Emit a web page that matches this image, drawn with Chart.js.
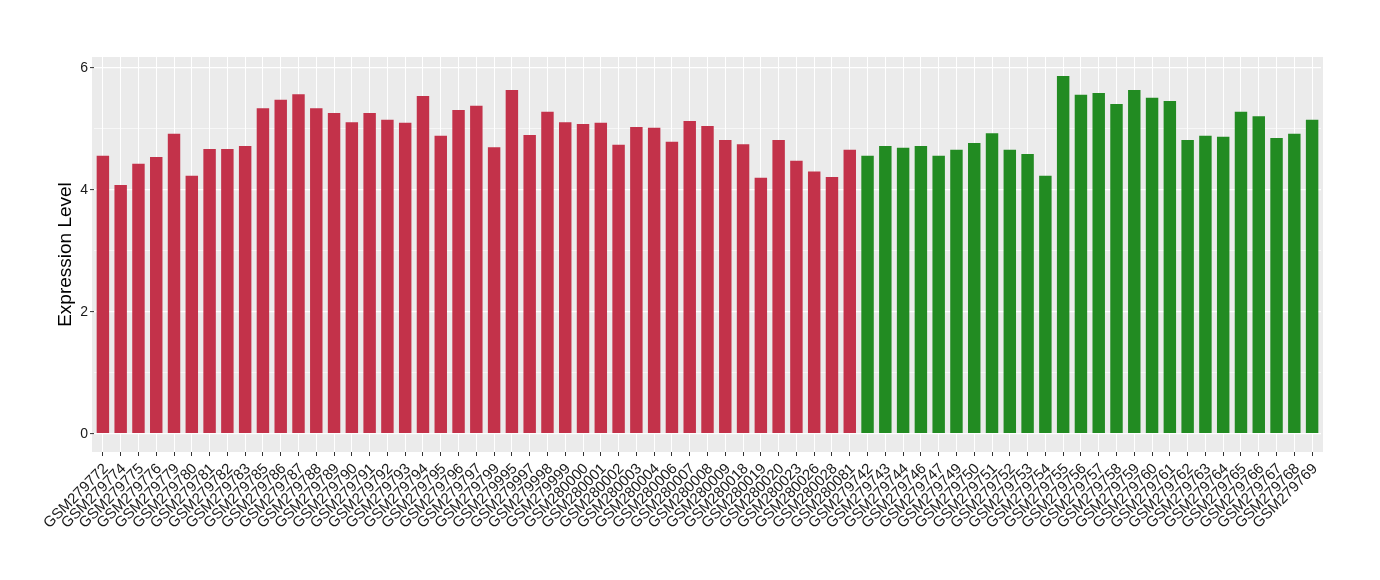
<!DOCTYPE html>
<html>
<head>
<meta charset="utf-8">
<script src="https://cdn.jsdelivr.net/npm/chart.js@4.4.1/dist/chart.umd.min.js"></script>
<style>
  html, body { margin: 0; padding: 0; background: #fff; }
  #wrap { width: 1380px; height: 580px; }
</style>
</head>
<body>
<div id="wrap"><canvas id="chart"></canvas></div>
<script>
// campioni e valori del primo gruppo (rosso)
const redSamples = ['GSM279772', 'GSM279774', 'GSM279775', 'GSM279776', 'GSM279779', 'GSM279780', 'GSM279781', 'GSM279782', 'GSM279783', 'GSM279785',
    'GSM279786', 'GSM279787', 'GSM279788', 'GSM279789', 'GSM279790', 'GSM279791', 'GSM279792', 'GSM279793', 'GSM279794', 'GSM279795',
    'GSM279796', 'GSM279797', 'GSM279799', 'GSM279995', 'GSM279997', 'GSM279998', 'GSM279999', 'GSM280000', 'GSM280001', 'GSM280002',
    'GSM280003', 'GSM280004', 'GSM280006', 'GSM280007', 'GSM280008', 'GSM280009', 'GSM280018', 'GSM280019', 'GSM280020', 'GSM280023',
    'GSM280026', 'GSM280028', 'GSM280081'];
const redValues = [4.56, 4.08, 4.43, 4.54, 4.92, 4.23, 4.67, 4.67, 4.72, 5.34,
    5.48, 5.57, 5.34, 5.26, 5.11, 5.26, 5.15, 5.10, 5.54, 4.89,
    5.31, 5.38, 4.70, 5.64, 4.90, 5.28, 5.11, 5.08, 5.10, 4.74,
    5.03, 5.02, 4.79, 5.13, 5.05, 4.82, 4.75, 4.20, 4.82, 4.48,
    4.30, 4.21, 4.66];

// secondo gruppo (verde)
const greenSamples = ['GSM279742', 'GSM279743', 'GSM279744', 'GSM279746', 'GSM279747', 'GSM279749', 'GSM279750', 'GSM279751', 'GSM279752', 'GSM279753',
    'GSM279754', 'GSM279755', 'GSM279756', 'GSM279757', 'GSM279758', 'GSM279759', 'GSM279760', 'GSM279761', 'GSM279762', 'GSM279763',
    'GSM279764', 'GSM279765', 'GSM279766', 'GSM279767', 'GSM279768', 'GSM279769'];
const greenValues = [4.56, 4.72, 4.69, 4.72, 4.56, 4.66, 4.77, 4.93, 4.66, 4.59,
    4.23, 5.87, 5.56, 5.59, 5.41, 5.64, 5.51, 5.46, 4.82, 4.89,
    4.87, 5.28, 5.21, 4.85, 4.92, 5.15];

const yTicks = [0, 1, 2, 3, 4, 5, 6];
const yLabelled = [0, 2, 4, 6];

const RED = '#C3324A';
const GREEN = '#228B22';

const labels = redSamples.concat(greenSamples);
const values = redValues.concat(greenValues);
const colors = redSamples.map(() => RED).concat(greenSamples.map(() => GREEN));

// sfondo grigio del pannello (stile ggplot)
const panelBg = {
    id: 'panelBg',
    beforeDraw(chart) {
        const { ctx, chartArea: a } = chart;
        ctx.save();
        ctx.fillStyle = '#EBEBEB';
        ctx.fillRect(a.left - 2, a.top, a.right - a.left + 4, a.bottom - a.top);
        ctx.restore();
    }
};

new Chart(document.getElementById('chart'), {
    type: 'bar',
    data: {
        labels: labels,
        datasets: [{
            data: values,
            backgroundColor: colors,
            borderWidth: 0,
            barPercentage: 0.7,
            categoryPercentage: 1
        }]
    },
    options: {
        responsive: true,
        maintainAspectRatio: false,
        animation: false,
        layout: { padding: { top: 57, right: 59, left: 0, bottom: 0 } },
        plugins: { legend: { display: false }, tooltip: { enabled: false } },
        scales: {
            x: {
                type: 'category',
                offset: true,
                grid: {
                    offset: false,
                    color: '#FFFFFF',
                    lineWidth: 1,
                    drawTicks: true,
                    tickColor: '#333333',
                    tickLength: 4,
                    tickWidth: 1
                },
                border: { display: false },
                ticks: {
                    autoSkip: false,
                    minRotation: 45,
                    maxRotation: 45,
                    padding: 4,
                    labelOffset: 3,
                    color: '#1A1A1A',
                    font: { family: 'Liberation Sans, Arial, sans-serif', size: 15 }
                },
                afterFit(scale) { scale.height = 128; }
            },
            y: {
                type: 'linear',
                min: -0.3,
                max: 6.18,
                afterBuildTicks(scale) {
                    scale.ticks = yTicks.map(v => ({ value: v }));
                },
                grid: {
                    color: '#FFFFFF',
                    lineWidth: ctx => (yLabelled.includes(ctx.tick.value) ? 1.2 : 0.6),
                    tickColor: ctx => (yLabelled.includes(ctx.tick.value) ? '#333333' : 'rgba(0,0,0,0)'),
                    tickLength: 4,
                    tickWidth: 1
                },
                border: { display: false },
                ticks: {
                    padding: 2,
                    color: '#1A1A1A',
                    font: { family: 'Liberation Sans, Arial, sans-serif', size: 14 },
                    callback: v => (yLabelled.includes(v) ? String(v) : '')
                },
                title: {
                    display: true,
                    text: 'Expression Level',
                    color: '#000000',
                    font: { family: 'Liberation Sans, Arial, sans-serif', size: 19 },
                    padding: { top: 54, bottom: 0 }
                },
                afterFit(scale) { scale.width = 94; }
            }
        }
    },
    plugins: [panelBg]
});
</script>
</body>
</html>
